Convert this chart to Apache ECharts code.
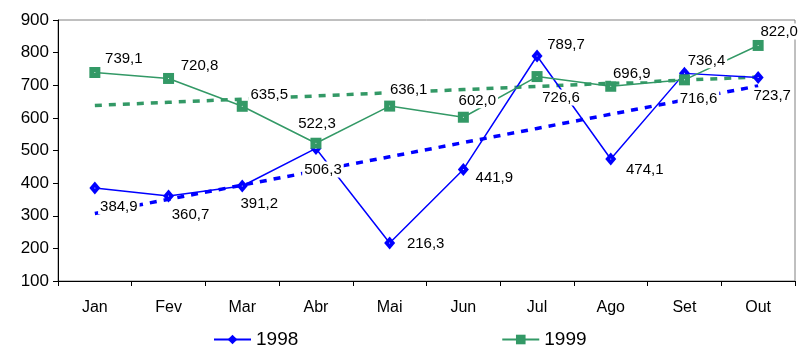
<!DOCTYPE html>
<html>
<head>
<meta charset="utf-8">
<script src="https://cdn.jsdelivr.net/npm/echarts@6/dist/echarts.min.js"></script>
<style>
  html, body { margin: 0; padding: 0; background: #fff; }
  #chart { width: 805px; height: 347px; }
</style>
</head>
<body>
<div id="chart"></div>
<script>
// Monthly values, 1998 vs 1999
const months = ['Jan', 'Fev', 'Mar', 'Abr', 'Mai', 'Jun', 'Jul', 'Ago', 'Set', 'Out'];
const values1998 = [384.9, 360.7, 391.2, 506.3, 216.3, 441.9, 789.7, 474.1, 736.4, 723.7];
const values1999 = [739.1, 720.8, 635.5, 522.3, 636.1, 602.0, 726.6, 696.9, 716.6, 822.0];
const yTicks = { min: 100, max: 900, step: 100 };

// Label placement (centre offset from each point, px)
const labelOffsets1998 = [[24, 18], [22, 18], [17, 17], [7, 21], [36, 0], [31, 8], [29, -12], [34, 10], [22, -13], [14, 18]];
const labelOffsets1999 = [[29, -14], [31, -13], [27, -12], [1, -20], [19, -17], [14, -17], [24, 21], [21, -13], [14, 19], [21, -14]];

const BLUE = '#0000ff';
const GREEN = '#339966';
const FONT = 'Liberation Sans, Arial, sans-serif';

// Least-squares linear trend over the month index
function linearTrend(ys) {
  const n = ys.length;
  let sx = 0, sy = 0, sxx = 0, sxy = 0;
  ys.forEach((y, i) => { const x = i + 1; sx += x; sy += y; sxx += x * x; sxy += x * y; });
  const slope = (n * sxy - sx * sy) / (n * sxx - sx * sx);
  const icpt = (sy - slope * sx) / n;
  return ys.map((_, i) => +(icpt + slope * (i + 1)).toFixed(2));
}

function fmt(v) { return v.toFixed(1).replace('.', ','); }

// Value labels sit in their own series so they paint above every line
function labelSeries(name, vals, offsets) {
  return {
    name: name,
    type: 'scatter',
    z: 10,
    silent: true,
    symbol: 'circle',
    symbolSize: 1,
    itemStyle: { color: '#fff', opacity: 1 },
    data: vals.map((v, i) => ({
      value: v,
      label: { offset: offsets[i] }
    })),
    label: {
      show: true,
      position: 'inside',
      align: 'center',
      verticalAlign: 'middle',
      formatter: p => '{t|' + fmt(p.value) + '}',
      rich: {
        t: {
          color: '#000',
          fontFamily: FONT,
          fontSize: 15,
          backgroundColor: '#fff',
          padding: [1, 2, 0, 2]
        }
      }
    }
  };
}

const chart = echarts.init(document.getElementById('chart'), null, { renderer: 'canvas' });

chart.setOption({
  animation: false,
  backgroundColor: '#fff',
  grid: {
    left: 58, right: 10, top: 20, bottom: 66,
    show: true, borderColor: '#808080', borderWidth: 1, backgroundColor: 'transparent'
  },
  legend: {
    data: ['1998', '1999'],
    left: 213,
    top: 330,
    padding: 0,
    itemWidth: 37,
    itemHeight: 12,
    itemGap: 203,
    textStyle: { fontFamily: FONT, fontSize: 19, color: '#000' }
  },
  xAxis: {
    type: 'category',
    data: months,
    boundaryGap: true,
    axisLine: { lineStyle: { color: '#000', width: 1 } },
    axisTick: { show: true, length: 5, lineStyle: { color: '#000' } },
    axisLabel: { fontFamily: FONT, fontSize: 16, color: '#000', margin: 19 },
    splitLine: { show: false }
  },
  yAxis: {
    type: 'value',
    min: yTicks.min,
    max: yTicks.max,
    interval: yTicks.step,
    axisLine: { show: true, lineStyle: { color: '#000', width: 1 } },
    axisTick: { show: true, length: 5, lineStyle: { color: '#000' } },
    axisLabel: { fontFamily: FONT, fontSize: 17, color: '#000', margin: 9 },
    splitLine: { show: false }
  },
  series: [
    {
      name: 'trend1998',
      type: 'line',
      z: 1,
      silent: true,
      symbol: 'none',
      data: linearTrend(values1998),
      lineStyle: { color: BLUE, width: 3.5, type: [7, 7] }
    },
    {
      name: 'trend1999',
      type: 'line',
      z: 1,
      silent: true,
      symbol: 'none',
      data: linearTrend(values1999),
      lineStyle: { color: GREEN, width: 3.5, type: [7, 7] }
    },
    {
      name: '1998',
      type: 'line',
      z: 2,
      data: values1998,
      symbol: 'diamond',
      symbolSize: [11, 13],
      itemStyle: { color: BLUE },
      lineStyle: { color: BLUE, width: 1.5 }
    },
    {
      name: '1999',
      type: 'line',
      z: 3,
      data: values1999,
      symbol: 'rect',
      symbolSize: 11,
      itemStyle: { color: GREEN },
      lineStyle: { color: GREEN, width: 1.5 }
    },
    labelSeries('labels1998', values1998, labelOffsets1998),
    labelSeries('labels1999', values1999, labelOffsets1999)
  ]
});
</script>
</body>
</html>
